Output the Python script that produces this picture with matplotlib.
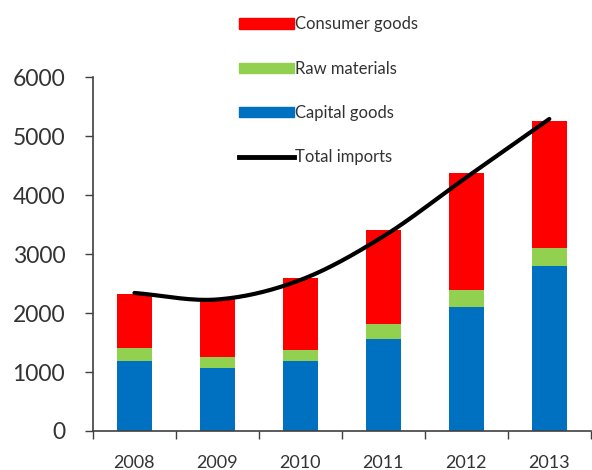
import numpy as np
import matplotlib
matplotlib.use("Agg")
import matplotlib.pyplot as plt
from matplotlib.patches import Patch
from matplotlib.lines import Line2D

plt.rcParams['font.family'] = ['Lato', 'DejaVu Sans']

years = ['2008', '2009', '2010', '2011', '2012', '2013']
capital = [1190, 1060, 1190, 1560, 2110, 2800]
raw = [220, 200, 180, 260, 280, 300]
consumer = [910, 970, 1230, 1580, 1980, 2150]
total = [2340, 2230, 2560, 3300, 4300, 5290]

blue = '#0070C0'
green = '#92D050'
red = '#FF0000'


def smooth(xs, ys, n=30):
    # catmull-rom, just for the look of the excel smoothed line
    xs = np.asarray(xs, float)
    ys = np.asarray(ys, float)
    px = np.concatenate([[2 * xs[0] - xs[1]], xs, [2 * xs[-1] - xs[-2]]])
    py = np.concatenate([[2 * ys[0] - ys[1]], ys, [2 * ys[-1] - ys[-2]]])
    ox, oy = [], []
    t = np.linspace(0, 1, n)
    for i in range(1, len(px) - 2):
        for p, o in ((px, ox), (py, oy)):
            p0, p1, p2, p3 = p[i - 1], p[i], p[i + 1], p[i + 2]
            o.extend(0.5 * (2 * p1 + (-p0 + p2) * t
                            + (2 * p0 - 5 * p1 + 4 * p2 - p3) * t ** 2
                            + (-p0 + 3 * p1 - 3 * p2 + p3) * t ** 3))
    return ox, oy


fig = plt.figure(figsize=(5.92, 4.70), dpi=100)
ax = fig.add_axes([0.157, 0.083, 0.841, 0.753])

x = np.arange(len(years))
w = 0.42
ax.bar(x, capital, w, color=blue, linewidth=0)
ax.bar(x, raw, w, bottom=capital, color=green, linewidth=0)
ax.bar(x, consumer, w, bottom=np.add(capital, raw), color=red, linewidth=0)

sx, sy = smooth(x, total)
ax.plot(sx, sy, color='black', linewidth=3, solid_capstyle='round')

ax.set_xlim(-0.5, len(years) - 0.5)
ax.set_ylim(0, 6000)
ax.set_yticks(range(0, 6001, 1000))
ax.tick_params(axis='y', labelsize=16.5, colors='#404040', labelcolor='#333333',
               length=6, width=1, pad=14)
ax.set_xticks(x)
ax.set_xticklabels(years)
ax.set_xticks(np.arange(-0.5, len(years)), minor=True)
ax.tick_params(axis='x', which='major', length=0, labelsize=13, labelcolor='#333333', pad=17)
ax.tick_params(axis='x', which='minor', length=6, width=1, color='#404040')
for s in ['top', 'right']:
    ax.spines[s].set_visible(False)
for s in ['left', 'bottom']:
    ax.spines[s].set_color('#404040')
    ax.spines[s].set_linewidth(1.2)

handles = [Patch(color=red), Patch(color=green), Patch(color=blue),
           Line2D([], [], color='black', linewidth=3.5)]
labels = ['Consumer goods', 'Raw materials', 'Capital goods', 'Total imports']
fig.legend(handles, labels, loc='upper left', bbox_to_anchor=(0.378, 0.997),
           frameon=False, fontsize=12, labelspacing=1.7, handlelength=3.3,
           handleheight=0.6, handletextpad=0.1, labelcolor='#333333')

fig.savefig('out.png', dpi=100)
